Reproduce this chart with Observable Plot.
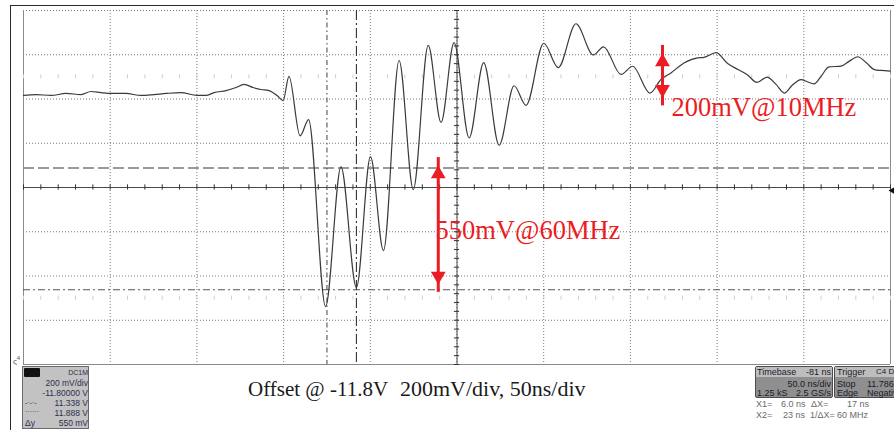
<!DOCTYPE html>
<html><head><meta charset="utf-8">
<script src="https://cdn.jsdelivr.net/npm/d3@7"></script>
<script src="https://cdn.jsdelivr.net/npm/@observablehq/plot@0.6"></script>
<style>
body{margin:0;background:#fff;}
#wrap{position:relative;width:894px;height:430px;overflow:hidden;background:#fff;font-family:"Liberation Sans",Arial,sans-serif;}
.abs{position:absolute;white-space:pre;}
.sm{font-size:8.5px;line-height:10px;height:10px;color:#2e2e50;}
.tb{font-size:9px;line-height:10px;height:10px;color:#1a1a2a;}
.cur{font-size:9px;line-height:10px;height:10px;color:#6a6a6a;}
.cap{font-family:"Liberation Serif","Times New Roman",serif;font-size:22px;line-height:22px;color:#1a1a1a;}
.box{box-sizing:border-box;border:1px solid #4d4d4d;border-radius:2px;background:#8f8f8f;}
</style></head><body>
<div id="wrap">
  <div id="chart" class="abs" style="left:0;top:0"></div>
  <div class="abs" style="left:10px;top:5px;width:900px;height:440px;border-left:1.5px solid #2a2a2a;border-top:1.5px solid #2a2a2a;"></div>
  <div class="abs" style="left:13px;top:355px;font-size:8px;color:#555;">ς<sup style="font-size:6px">4</sup></div>

  <!-- left channel box -->
  <div class="abs" style="left:22px;top:366px;width:67px;height:63px;box-sizing:border-box;background:#c2c2c2;border:1px solid #6a6a6a;"></div>
  <div class="abs" style="left:24px;top:368px;width:16px;height:9px;background:#111;border-radius:1px;"></div>
  <div class="abs sm" style="right:806px;top:368px;font-size:7px;">DC1M</div>
  <div class="abs sm" style="right:806px;top:378px;">200 mV/div</div>
  <div class="abs sm" style="right:806px;top:388px;">-11.80000 V</div>
  <div class="abs sm" style="left:25px;top:398px;font-size:7px;">-·-·-</div>
  <div class="abs sm" style="right:806px;top:398px;">11.338 V</div>
  <div class="abs sm" style="left:25px;top:407px;font-size:7px;">······</div>
  <div class="abs sm" style="right:806px;top:408px;">11.888 V</div>
  <div class="abs sm" style="left:25px;top:418px;">Δy</div>
  <div class="abs sm" style="right:806px;top:418px;">550 mV</div>

  <!-- caption -->
  <div class="abs cap" style="left:248px;top:379px;font-size:21px;line-height:21px;">Offset @ -11.8V</div>
  <div class="abs cap" style="left:400px;top:378px;">200mV/div, 50ns/div</div>

  <!-- timebase box -->
  <div class="abs box" style="left:755px;top:366px;width:78px;height:32px;"></div>
  <div class="abs" style="left:756px;top:367px;width:76px;height:10px;background:#bdbdbd;"></div>
  <div class="abs tb" style="left:757px;top:367px;">Timebase</div>
  <div class="abs tb" style="right:63px;top:367px;">-81 ns</div>
  <div class="abs tb" style="right:63px;top:379px;">50.0 ns/div</div>
  <div class="abs tb" style="left:757px;top:388px;">1.25 kS</div>
  <div class="abs tb" style="right:63px;top:388px;">2.5 GS/s</div>
  <!-- trigger box (cut off by the right edge, as in the screenshot) -->
  <div class="abs box" style="left:834px;top:366px;width:72px;height:32px;"></div>
  <div class="abs" style="left:835px;top:367px;width:70px;height:10px;background:#bdbdbd;"></div>
  <div class="abs tb" style="left:837px;top:367px;">Trigger</div>
  <div class="abs tb" style="left:876px;top:367px;font-size:8px;">C4 DC</div>
  <div class="abs tb" style="left:837px;top:379px;">Stop</div>
  <div class="abs tb" style="left:867px;top:379px;">11.786 V</div>
  <div class="abs tb" style="left:837px;top:388px;">Edge</div>
  <div class="abs tb" style="left:867px;top:388px;">Negative</div>
  <!-- cursor readouts -->
  <div class="abs cur" style="left:756px;top:399px;">X1=</div>
  <div class="abs cur" style="left:781px;top:399px;">6.0 ns</div>
  <div class="abs cur" style="left:811px;top:399px;">ΔX=</div>
  <div class="abs cur" style="left:847px;top:399px;">17 ns</div>
  <div class="abs cur" style="left:756px;top:410px;">X2=</div>
  <div class="abs cur" style="left:783px;top:410px;">23 ns</div>
  <div class="abs cur" style="left:810px;top:410px;">1/ΔX=</div>
  <div class="abs cur" style="left:837px;top:410px;">60 MHz</div>
</div>
<script>
// Time (ns, absolute scope time; screen centre = 81 ns because timebase delay is -81 ns)
const timeNs = [-169, -161.8, -153.1, -144.5, -135.8, -130.1, -124.3, -118.5, -109.9, -101.2, -93.7, -86.8, -78.2, -68.9, -63.8, -59.1, -52.2, -46.4, -41.8, -36.6, -32.0, -27.4, -22.8, -19.3, -15.9, -9.5, -4.6, 5.2, 14.1, 23.0, 31.1, 38.6, 47.6, 55.8, 64.4, 71.8, 79.3, 88.0, 96.4, 105.3, 113.9, 120.8, 131.0, 139.4, 149.6, 159.6, 165.5, 175.6, 182.3, 192.3, 198.6, 204.4, 211.9, 219.8, 223.4, 230.4, 237.1, 243.1, 248.2, 254.0, 259.8, 265.0, 269.8, 274.2, 279.4, 282.8, 286.9, 290.9, 295.5, 302.5, 307.1, 312.1, 316.9, 321.7, 325.5, 330.7];
// Voltage (mV relative to the -11.8 V offset, i.e. to 11.8 V)
const voltMv = [416, 420, 416, 425, 420, 434, 429, 425, 425, 416, 420, 425, 429, 416, 416, 429, 438, 452, 466, 452, 443, 438, 416, 393, 502, 233, 307, -538, 93, -452, 140, -285, 574, -9, 642, 294, 655, 224, 564, 191, 460, 371, 652, 542, 740, 599, 636, 511, 548, 427, 488, 518, 563, 586, 588, 610, 560, 533, 511, 475, 499, 466, 427, 461, 488, 479, 468, 502, 545, 549, 570, 591, 565, 533, 529, 526];

const timeDomainNs = [-169, 331];      // 10 divisions x 50 ns/div
const voltDomainMv = [-800, 800];      // 8 divisions x 200 mV/div
const nsPerDiv = 50, mvPerDiv = 200;
const centerTimeNs = 81;
const cursorTimeNs = [6, 23];          // X1, X2
const cursorVoltMv = [-462, 88];       // 11.338 V, 11.888 V
const triggerMv = [-14];               // 11.786 V
const noteLabels = ["200mV@10MHz", "550mV@60MHz"];
const noteTimeNs = [199.5, 70.2];
const noteLowMv = [405, -438];
const noteHighMv = [606, 99];
const labelTimeNs = [204.7, 68.6];
const labelMv = [321, -233];

const wave = timeNs.map((t, i) => ({t, v: voltMv[i]}));
const notes = noteLabels.map((s, i) => ({s, t: noteTimeNs[i], lo: noteLowMv[i], hi: noteHighMv[i], lt: labelTimeNs[i], lv: labelMv[i]}));
const majorT = d3.range(timeDomainNs[0], timeDomainNs[1] + 1, nsPerDiv);
const majorV = d3.range(voltDomainMv[0], voltDomainMv[1] + 1, mvPerDiv);
const minorT = d3.range(timeDomainNs[0], timeDomainNs[1] + 1, nsPerDiv / 5);
const minorV = d3.range(voltDomainMv[0], voltDomainMv[1] + 1, mvPerDiv / 5);
const red = "#ec1c24";
const grid = {stroke: "#7a7a7a", strokeDasharray: "1,2"};

const plot = Plot.plot({
  width: 894, height: 366,
  marginLeft: 23, marginRight: 4, marginTop: 10, marginBottom: 2,
  x: {domain: timeDomainNs, axis: null},
  y: {domain: voltDomainMv, axis: null},
  style: {background: "transparent", overflow: "visible"},
  marks: [
    Plot.ruleX(majorT.slice(1, -1), grid),
    Plot.ruleY(majorV.filter(v => v !== 0 && v !== voltDomainMv[0]), grid),
    Plot.ruleX([majorT[0], majorT[majorT.length - 1]], {stroke: "#8a8a8a"}),
    Plot.ruleY([voltDomainMv[0]], {stroke: "#8a8a8a"}),
    Plot.ruleX(minorT, {x: d => d, y1: 2.5 * mvPerDiv - 9, y2: 2.5 * mvPerDiv + 9, stroke: "#cdcdcd"}),
    Plot.ruleX(minorT, {x: d => d, y1: -2.5 * mvPerDiv - 9, y2: -2.5 * mvPerDiv + 9, stroke: "#cdcdcd"}),
    Plot.ruleY([0], {stroke: "#4a4a4a"}),
    Plot.ruleX([centerTimeNs], {stroke: "#4a4a4a"}),
    Plot.ruleX(minorT, {x: d => d, y1: -12, y2: 12, stroke: "#333"}),
    Plot.ruleY(minorV, {y: d => d, x1: centerTimeNs - 1.5, x2: centerTimeNs + 1.5, stroke: "#333"}),
    Plot.ruleY([cursorVoltMv[1]], {stroke: "#7a7a7a", strokeWidth: 1.4, strokeDasharray: "11,4"}),
    Plot.ruleY([cursorVoltMv[0]], {stroke: "#555", strokeWidth: 1.1, strokeDasharray: "7,3,2,3"}),
    Plot.ruleX([cursorTimeNs[0]], {stroke: "#555", strokeWidth: 1.1, strokeDasharray: "5,3,1.5,3"}),
    Plot.ruleX([cursorTimeNs[1]], {stroke: "#333", strokeWidth: 1.1, strokeDasharray: "10,3,2,3"}),
    Plot.line(wave, {x: "t", y: "v", curve: "monotone-x", stroke: "#3a3a3a", strokeWidth: 1.2}),
    Plot.dot(triggerMv, {x: () => timeDomainNs[1], y: d => d, symbol: "triangle", rotate: -90, r: 2.6, fill: "#111", dx: 2}),
    Plot.ruleX(notes, {x: "t", y1: "lo", y2: "hi", stroke: red, strokeWidth: 3, insetTop: 8, insetBottom: 8}),
    Plot.dot(notes, {x: "t", y: "hi", symbol: "triangle", r: 5.5, fill: red, dy: 8.5}),
    Plot.dot(notes, {x: "t", y: "lo", symbol: "triangle", rotate: 180, r: 5.5, fill: red, dy: -8.5}),
    Plot.text(notes, {x: "lt", y: "lv", text: "s", fill: red, fontFamily: "Liberation Serif", fontSize: 26.5, textAnchor: "start", lineAnchor: "bottom"})
  ]
});
document.getElementById("chart").append(plot);
</script>
</body></html>
